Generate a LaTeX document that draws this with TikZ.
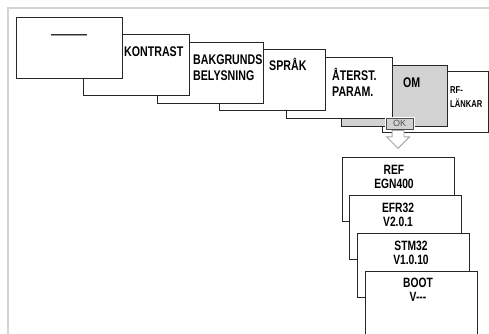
\documentclass[tikz,border=0pt]{standalone}
\usepackage{fontspec}
\setmainfont{Liberation Sans}
\newfontfamily\condfont[FakeStretch=0.76]{Liberation Sans}
\usepackage{xcolor}
\usetikzlibrary{shapes.arrows}

\definecolor{omgray}{HTML}{D2D2D2}
\definecolor{framegray}{HTML}{D4D4D4}
\definecolor{arrowgray}{HTML}{A8A8A8}

\begin{document}
\begin{tikzpicture}[x=1pt, y=-1pt,
    menubox/.style={draw=black!85, line width=0.9pt, fill=white, anchor=north west, minimum width=106pt, minimum height=61pt, inner sep=0pt},
    subbox/.style={menubox, minimum width=112pt, minimum height=64pt},
    menutext/.style={anchor=north west, inner sep=0pt, align=left, font=\condfont\bfseries\fontsize{14}{16}\selectfont},
    subtext/.style={anchor=north, inner sep=0pt, align=center, font=\condfont\bfseries\fontsize{13.5}{13.8}\selectfont}]
    \useasboundingbox (0,0) rectangle (489,334);
    \draw[framegray, line width=1.6pt] (8,334) -- (8,8) -- (489,8);

    % main menu, back to front
    \node[menubox] (rf) at (382,71) {};
    \node[menubox, fill=omgray] (om) at (341,65) {};
    \node[menubox] (aterst) at (286,57) {};
    \node[menubox] (sprak) at (219,49) {};
    \node[menubox] (bakgrund) at (157,42) {};
    \node[menubox] (kontrast) at (83,34) {};
    \node[menubox] (start) at (16,17) {};

    \node[anchor=base, inner sep=0pt, font=\bfseries\fontsize{12}{12}\selectfont] (start-txt) at (69,38.5) {———};
    \node[menutext] (kontrast-txt) at (124,47) {KONTRAST};
    \node[menutext] (bakgrund-txt) at (193,55) {BAKGRUNDS\\BELYSNING};
    \node[menutext] (sprak-txt) at (269,58) {SPRÅK};
    \node[menutext] (aterst-txt) at (332,68) {ÅTERST.\\PARAM.};
    \node[menutext] (om-txt) at (403,78) {OM};
    \node[menutext, font=\condfont\bfseries\fontsize{10}{14}\selectfont] (rf-txt) at (450,86) {RF-\\LÄNKAR};

    % OK key and arrow
    \node[draw=gray!60!black, fill=gray!35, minimum width=27pt, minimum height=11pt, inner sep=0pt,
          font=\fontsize{9}{9}\selectfont, text=gray!65!black,
          preaction={draw=white, line width=3pt}] (ok) at (399.5,123.5) {OK};
    \node[single arrow, draw=arrowgray, fill=white, line width=0.9pt, shape border rotate=270,
          minimum height=16pt, inner sep=5.5pt, single arrow head extend=5.5pt, anchor=tip] (okarrow) at (398,149) {};

    % info pages
    \node[subbox] (ref) at (342,157) {};
    \node[subtext] (ref-txt) at (394,165) {REF\\EGN400};
    \node[subbox] (efr) at (349,195) {};
    \node[subtext] (efr-txt) at (398,203) {EFR32\\V2.0.1};
    \node[subbox] (stm) at (357,233) {};
    \node[subtext] (stm-txt) at (411,241) {STM32\\V1.0.10};
    \node[subbox] (boot) at (365,271) {};
    \node[subtext] (boot-txt) at (418,278) {BOOT\\V---};
\end{tikzpicture}
\end{document}
